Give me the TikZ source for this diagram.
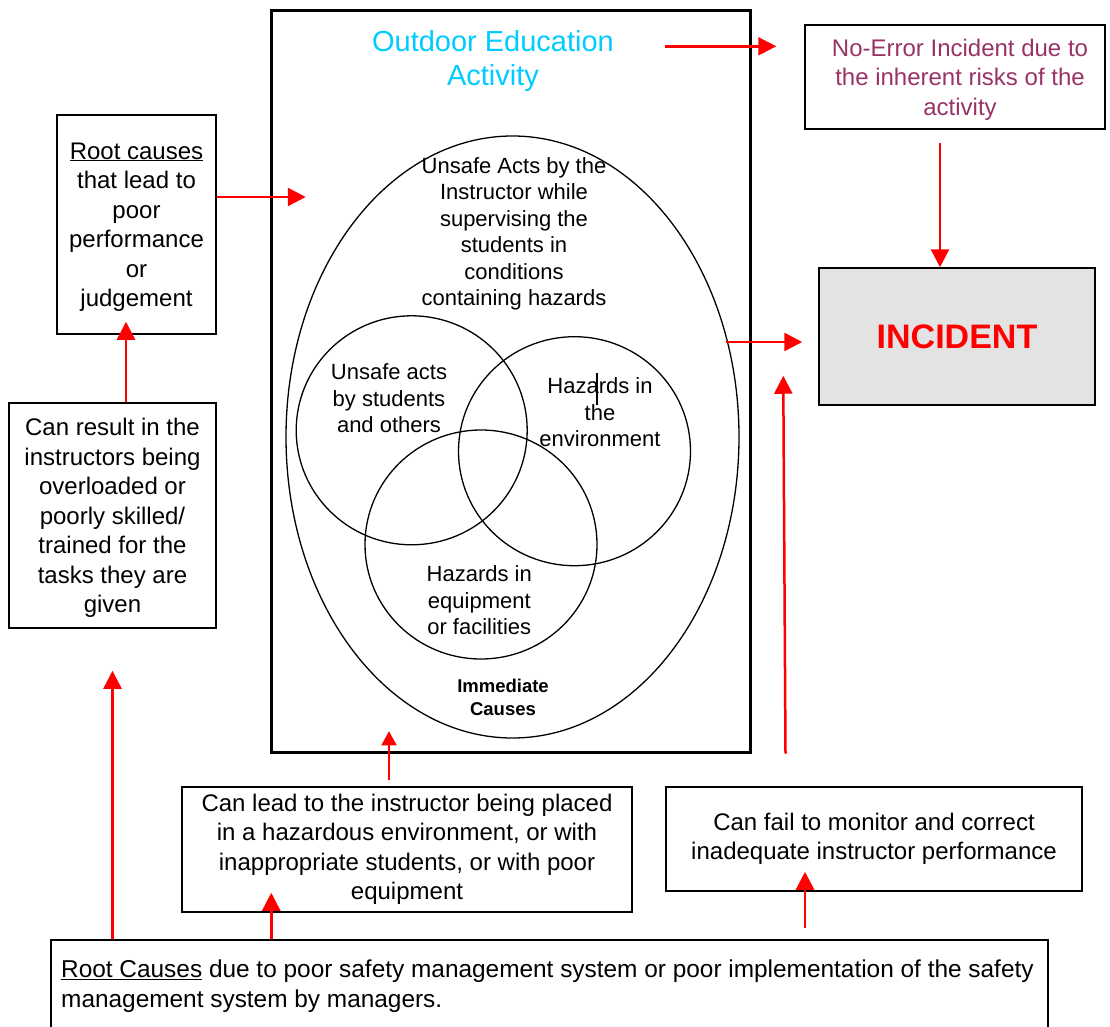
\documentclass[tikz,border=0pt]{standalone}
\usepackage{fontspec}
\setmainfont{Liberation Sans}
\usetikzlibrary{arrows.meta,shapes.geometric,calc}

\definecolor{titlecyan}{HTML}{00CCFF}
\definecolor{plum}{HTML}{993366}
\definecolor{incgray}{HTML}{E3E3E3}
\definecolor{arrowred}{HTML}{FF0000}

\newcommand{\bodyfont}{\fontsize{24}{29.5}\selectfont}
\newcommand{\vennfont}{\fontsize{22}{26.5}\selectfont}

\begin{document}
\begin{tikzpicture}[x=1pt,y=-1pt,
  box/.style={draw,line width=1.5pt,inner sep=0pt,align=center,font=\bodyfont},
  ring/.style={draw,ellipse,line width=1.3pt,inner sep=0pt},
  venntext/.style={font=\vennfont,align=center,inner sep=0pt},
  arr/.style={draw=arrowred,line width=2.5pt,-{Triangle[length=18pt,width=18pt]}},
  arrthin/.style={draw=arrowred,line width=1.5pt,-{Triangle[length=14pt,width=15pt]}},
]
\useasboundingbox (0,0) rectangle (1110,1027);

% left column of root-cause boxes
\node[box,text depth=0pt,minimum width=159pt,minimum height=219pt] (rc) at (136.5,224.5)
  {\underline{Root causes}\\that lead to\\poor\\performance\\or\\judgement};
\node[box,text depth=0pt,minimum width=207pt,minimum height=225pt] (cr) at (112.5,515.5)
  {Can result in the\\instructors being\\overloaded or\\poorly skilled/\\trained for the\\tasks they are\\given};

% activity frame with title
\node[draw,line width=3pt,minimum width=479pt,minimum height=741pt,inner sep=0pt] (frame) at (510.5,381.5) {};
\node[font=\fontsize{29}{34}\selectfont,text=titlecyan,align=center,inner sep=0pt] (title) at (493,61)
  {Outdoor Education\\Activity};

% immediate causes: outer ellipse and three overlapping circles
\node[ring,minimum width=453pt,minimum height=602pt] (big) at (512.5,437) {};
\node[ring,minimum width=231pt,minimum height=229pt] (va) at (411.7,430.3) {};
\node[ring,minimum width=232pt,minimum height=229pt] (vb) at (574.5,451.2) {};
\node[ring,minimum width=232pt,minimum height=229pt] (vc) at (481,544.5) {};

\node[venntext] (bigtxt) at (514,234)
  {Unsafe Acts by the\\Instructor while\\supervising the\\students in\\conditions\\containing hazards};
\node[venntext] (vatxt) at (389,398.5) {Unsafe acts\\by students\\and others};
\node[venntext] (vbtxt) at (600,412.5) {Hazards in\\the\\environment};
\node[venntext] (vctxt) at (479.3,600.5) {Hazards in\\equipment\\or facilities};
\node[font=\bfseries\fontsize{18.5}{23}\selectfont,align=center,inner sep=0pt] (imm) at (503,697.5)
  {Immediate\\Causes};
\draw[line width=1.2pt] (597,373) -- (597,405);

% outcome boxes
\node[draw,line width=1.5pt,minimum width=300pt,minimum height=104pt,inner sep=0pt] (noerr) at (955,77) {};
\node[font=\bodyfont,align=center,text=plum,text depth=0pt,inner sep=0pt] (noerrtxt) at (960,77)
  {No-Error Incident due to\\the inherent risks of the\\activity};
\node[box,fill=incgray,minimum width=276pt,minimum height=137pt,
      font=\bfseries\fontsize{34}{40}\selectfont,text=arrowred] (inc) at (957,336.5) {INCIDENT};

% management boxes
\node[box,minimum width=450pt,minimum height=125pt] (cl) at (407,849.5)
  {Can lead to the instructor being placed\\in a hazardous environment, or with\\inappropriate students, or with poor\\equipment};
\node[box,minimum width=416pt,minimum height=104pt] (cf) at (874,839)
  {Can fail to monitor and correct\\inadequate instructor performance};
\node[draw,line width=1.5pt,minimum width=997pt,minimum height=100pt,inner sep=0pt,anchor=north west] (bot) at (50,939) {};
\node[font=\fontsize{24.4}{29.5}\selectfont,align=left,anchor=north west,inner sep=0pt] (bottxt) at (61,960)
  {\underline{Root Causes} due to poor safety management system or poor implementation of the safety\\management system by managers.};

% connectors
\coordinate (a1) at (665,46.3);
\draw[arr,shorten >=28pt] (a1) -- (a1 -| noerr.west);
\draw[arr] ($(rc.east)+(0,-27.5)$) -- ++(89,0);
\draw[arr] ($(cr.north)+(13.5,0)$) -- ($(rc.south)+(-10.5,-13)$);
\draw[arr] (cr.south |- bot.north) -- ($(cr.south)+(0,42)$);
\coordinate (a5) at ($(cl.south west)+(90,0)$);
\draw[arr] (a5 |- bot.north) -- ($(a5)+(0,-20)$);
\draw[arrthin] ($(cl.north)+(-18,-6)$) -- ++(0,-49);
\coordinate (a7) at ($(cf.south)+(-69,0)$);
\draw[arr] ($(a7)+(0,36)$) -- ($(a7)+(0,-20)$);
\draw[arr] ($(frame.south east)+(34,0)$) -- ($(inc.south west)+(-35,-30)$);
\coordinate (a9) at (726,342);
\draw[arr,shorten >=16pt] (a9) -- (a9 -| inc.west);
\coordinate (a10) at ($(noerr.south)+(-15,13)$);
\draw[arr] (a10) -- (a10 |- inc.north);
\end{tikzpicture}
\end{document}
